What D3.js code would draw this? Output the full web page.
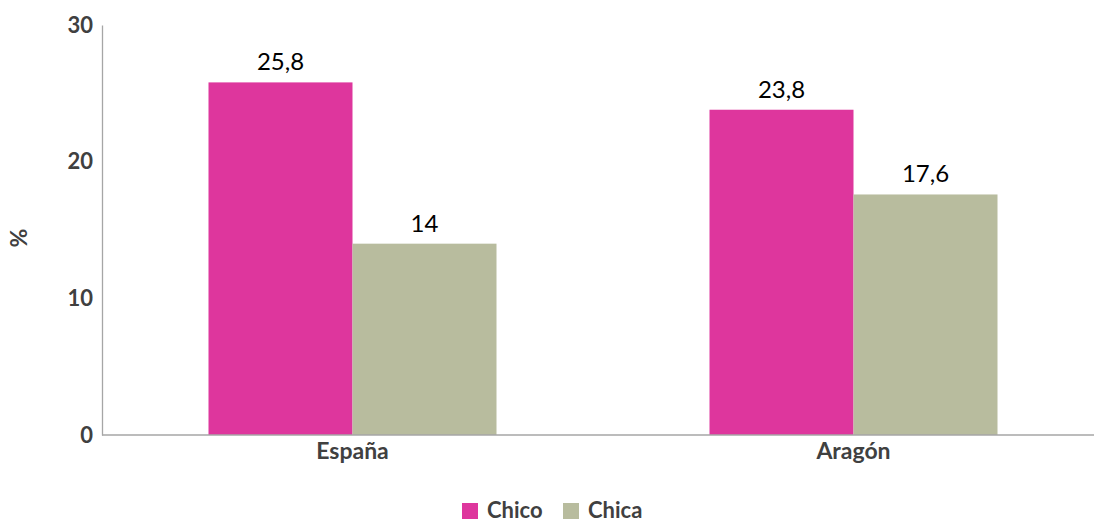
<!DOCTYPE html>
<html><head><meta charset="utf-8">
<script src="https://cdn.jsdelivr.net/npm/d3@7"></script>
<style>body{margin:0;background:#fff}svg{display:block}text{font-family:Lato,"Open Sans",sans-serif}</style>
</head><body><svg id="c" width="1096" height="522"></svg>
<script>
const categories = ["España", "Aragón"];
const seriesNames = ["Chico", "Chica"];
const chico = [25.8, 23.8];
const chica = [14, 17.6];
const chicoLabels = ["25,8", "23,8"];
const chicaLabels = ["14", "17,6"];
const yTicks = [0, 10, 20, 30];
const colors = ["#DE369D", "#B8BC9E"];

const svg = d3.select("#c");
const x0 = d3.scaleBand().domain(categories).range([102, 1104]).paddingInner(0).paddingOuter(0);
const x1 = d3.scaleBand().domain(seriesNames).range([106.5, 394.5]);
const y = d3.scaleLinear().domain([0, 30]).range([435, 25]);

const data = categories.map((c, i) => ({cat: c, vals: [
  {s: "Chico", v: chico[i], l: chicoLabels[i]},
  {s: "Chica", v: chica[i], l: chicaLabels[i]}]}));

const g = svg.selectAll("g.grp").data(data).join("g").attr("class","grp")
  .attr("transform", d => `translate(${x0(d.cat)},0)`);
g.selectAll("rect").data(d => d.vals).join("rect")
  .attr("x", d => x1(d.s)).attr("width", x1.bandwidth())
  .attr("y", d => y(d.v)).attr("height", d => y(0) - y(d.v))
  .attr("fill", (d, i) => colors[i]);
g.selectAll("text.val").data(d => d.vals).join("text").attr("class","val")
  .attr("x", d => x1(d.s) + x1.bandwidth()/2).attr("y", d => y(d.v) - 12)
  .attr("text-anchor","middle").attr("font-size", 24).attr("fill","#000").text(d => d.l);

// axes
const yAxis = d3.axisLeft(y).tickValues(yTicks).tickSize(0).tickPadding(9);
const ya = svg.append("g").attr("transform","translate(102,0)").call(yAxis)
  .attr("font-size",22).attr("font-family","Lato");
ya.select(".domain").attr("stroke","#A6A6A6").attr("stroke-width",1.3);
ya.selectAll("text").attr("font-weight","bold").attr("fill","#404040");

const xAxis = d3.axisBottom(x0).tickSize(0).tickPadding(8);
const xa = svg.append("g").attr("transform","translate(0,435)").call(xAxis)
  .attr("font-size",23).attr("font-family","Lato");
xa.select(".domain").attr("stroke","#A6A6A6").attr("stroke-width",1.3).attr("d","M102,0H1094");
xa.selectAll("text").attr("font-weight","bold").attr("fill","#404040");

svg.append("text").attr("transform","translate(27,238) rotate(-90)").attr("text-anchor","middle")
  .attr("font-size",23).attr("font-weight","bold").attr("fill","#404040").text("%");

// legend
const legX = [462, 563];
const lg = svg.selectAll("g.leg").data(seriesNames).join("g").attr("class","leg")
  .attr("transform",(d,i)=>`translate(${legX[i]},503)`);
lg.append("rect").attr("width",16).attr("height",16).attr("fill",(d,i)=>colors[i]);
lg.append("text").attr("x",25).attr("y",15).attr("font-size",22).attr("font-weight","bold")
  .attr("fill","#404040").text(d=>d);
</script></body></html>
